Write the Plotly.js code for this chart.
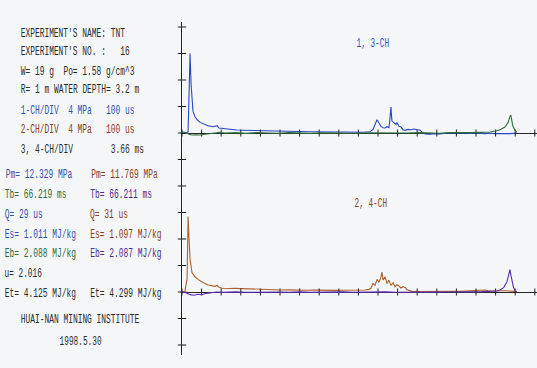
<!DOCTYPE html>
<html>
<head>
<meta charset="utf-8">
<script src="https://cdn.plot.ly/plotly-3.0.1.min.js"></script>
<style>
html,body{margin:0;padding:0;background:#f4f6f7;}
#chart{width:537px;height:368px;}
</style>
</head>
<body>
<div id="chart"></div>
<script>
// ---- data ----
// channel 1 (blue, top) : time in us, pressure in MPa
const ch1T = [0,10,20,31,36,41,46,51,56,66,77,92,112,133,158,179,189,219,255,280,306,330,347,370,388,410,429,450,474,500,526,550,577,600,628,655,679,705,730,755,781,805,832,858,883,908,934,959,974,985,995,1005,1015,1026,1036,1046,1056,1061,1066,1071,1082,1092,1097,1107,1117,1128,1138,1153,1168,1184,1199,1214,1225,1240,1265,1291,1316,1342,1367,1393,1418,1444,1469,1495,1520,1546,1571,1597,1622,1648,1673,1699];
const ch1P = [0.05,0.15,-0.05,0.2,6.0,12.0,7.5,4.6,3.3,2.5,2.0,1.6,1.3,1.1,0.95,1.1,0.75,0.62,0.5,0.45,0.42,0.4,0.36,0.38,0.33,0.3,0.32,0.27,0.28,0.24,0.26,0.22,0.24,0.2,0.22,0.18,0.2,0.17,0.19,0.15,0.17,0.14,0.16,0.12,0.15,0.12,0.14,0.2,0.5,1.3,2.0,1.5,1.0,0.8,0.75,0.95,0.8,2.2,3.9,1.8,1.6,1.3,1.6,1.0,0.9,0.5,0.4,0.55,0.5,0.6,0.5,0.45,0.1,-0.15,-0.18,-0.1,-0.14,0.0,0.05,-0.02,0.06,0.0,-0.06,0.02,-0.06,-0.1,-0.04,-0.12,-0.08,-0.13,-0.1,-0.05];
// channel 3 (green, top) : time in ms
const ch3T = [0,0.75,1.3,1.9,2.6,3.4,4.3,5.2,6.2,7.1,8,10,12,14,16,18,20,22,24,26,28,30,32,34,36,38,40,42,44,46,48,50,52,54,56,57.5,58.5,59.4,60.3,60.9,61.25,61.4,61.6,61.8,62.2,62.55];
const ch3P = [0.1,0.05,-0.2,-0.3,-0.28,-0.3,-0.2,-0.1,0.05,0.1,0.0,0.05,-0.05,0.06,0.0,-0.04,0.05,0.0,-0.05,0.04,0.0,0.05,-0.04,0.02,0.0,-0.05,0.04,0.0,0.06,0.02,-0.04,0.05,0.0,0.06,0.1,0.15,0.3,0.5,0.9,1.6,2.5,2.7,1.8,1.0,0.4,0.1];
// channel 2 (brown, bottom) : time in us
const ch2T = [0,15,26,31,36,41,51,66,82,102,133,153,168,179,189,204,225,245,270,306,340,372,410,440,474,510,540,570,602,640,680,720,755,790,825,857,895,934,954,964,974,985,995,1005,1015,1020,1026,1036,1046,1056,1066,1077,1087,1097,1107,1117,1128,1138,1148,1163,1173,1214,1250,1290,1316,1350,1390,1418,1460,1495,1520,1546,1571,1597,1622,1648,1673,1704];
const ch2P = [0.05,0.12,2.0,11.4,8.0,5.0,2.9,2.3,1.9,1.5,1.05,0.95,0.85,0.98,0.7,0.56,0.5,0.52,0.55,0.5,0.45,0.44,0.38,0.35,0.32,0.3,0.32,0.28,0.3,0.26,0.28,0.24,0.26,0.24,0.27,0.25,0.27,0.3,0.4,0.55,1.3,1.0,1.9,1.5,2.2,3.0,1.8,2.3,1.3,1.8,1.0,1.4,0.8,1.1,0.9,0.6,0.8,0.7,0.35,0.25,0.1,0.05,0.08,0.05,0.1,0.08,0.12,0.1,0.14,0.15,0.2,0.3,0.15,0.22,0.2,0.18,0.15,0.1];
// channel 4 (purple, bottom) : time in ms
const ch4T = [0,0.75,1.5,2.24,3.0,3.7,4.5,5.2,6.5,8,10,12,14,16,18,20,22,24,26,28,30,32,34,36,38,40,42,44,46,48,50,52,54,56,58,58.8,59.4,60.1,60.7,61.1,61.25,61.4,61.6,61.9,62.2,62.55];
const ch4P = [0.0,-0.1,-0.4,-0.5,-0.35,-0.42,-0.2,-0.1,0.0,-0.05,0.02,-0.04,0.0,-0.06,0.0,-0.04,0.02,-0.05,0.0,-0.04,0.02,-0.03,0.0,-0.05,0.02,-0.03,0.0,-0.04,0.02,-0.02,0.0,-0.03,0.02,0.05,0.1,0.15,0.3,0.7,1.6,2.8,3.4,2.6,1.6,0.7,0.2,0.0];

// division marks
const timeDivs = [0,100,200,300,400,500,600,700,800,900,1000,1100,1200,1300,1400,1500,1600,1700,1800];
const pressDivs = [16,12,8,4,0,-4,-8,-12,-16,-20,-24,-28,-32];

// text block: each line is a list of [text, colour key] pieces
const infoLines = [
  [["EXPERIMENT'S NAME: TNT", "k"]],
  [["EXPERIMENT'S NO. :   16", "k"]],
  [["W= 19 g  Po= 1.58 g/cm^3", "k"]],
  [["R= 1 m WATER DEPTH= 3.2 m", "k"]],
  [["1-CH/DIV  4 MPa   100 us", "b"]],
  [["2-CH/DIV  4 MPa   100 us", "r"]],
  [["3, 4-CH/DIV        3.66 ms", "k"]],
  [["Pm= 12.329 MPa    ", "b"], ["Pm= 11.769 MPa", "r"]],
  [["Tb= 66.219 ms     ", "g"], ["Tb= 66.211 ms", "p"]],
  [["Q= 29 us          ", "b"], ["Q= 31 us", "r"]],
  [["Es= 1.011 MJ/kg   ", "b"], ["Es= 1.097 MJ/kg", "r"]],
  [["Eb= 2.088 MJ/kg   ", "g"], ["Eb= 2.087 MJ/kg", "p"]],
  [["u= 2.016", "k"]],
  [["Et= 4.125 MJ/kg   ", "k"], ["Et= 4.299 MJ/kg", "k"]],
  [["HUAI-NAN MINING INSTITUTE", "k"]],
  [["1998.5.30", "k"]]
];
// where each text line starts (left px, middle px)
const lineLeft = [21,21,21,21,21,21,21,6,5,5,5,5,5,5,21,59];
const lineMid  = [33,52,71,90,110,129,149,174,195,215,234,253,273,293,319,341];
// channel labels: [text, colour key, centre px, middle px]
const chLabels = [["1, 3-CH", "b", 373, 43], ["2, 4-CH", "r", 371, 203]];

// ---- styling ----
const textCol = {k:"#2b2b2b", b:"#3050b4", r:"#8e3c20", g:"#2d6a3c", p:"#4a2c8e"};
const FONT = "'Liberation Mono', 'DejaVu Sans Mono', monospace";
const FSIZE = 8;       // gives the ~4.8 px pitch of the plotter lettering
const STRETCH = 1.5;   // plotter letters are tall and narrow
const PITCH = 4.78;
const L = 182, T = 22, W = 355, H = 333;
const px2x = px => (px - L) / W;
const py2y = py => (T + H - py) / H;
const nb = s => s.replace(/ /g, "\u00A0");

const items = infoLines.map((pieces, i) => {
  const n = pieces.reduce((a, p) => a + p[0].length, 0);
  const w = n * PITCH - 1;
  return {
    html: pieces.map(p => '<span style="color:' + textCol[p[1]] + '">' + nb(p[0]) + '</span>').join(""),
    col: textCol[pieces[0][1]], cx: lineLeft[i] + w / 2, cy: lineMid[i], w: w
  };
}).concat(chLabels.map(d => ({
  html: nb(d[0]), col: textCol[d[1]], cx: d[2], cy: d[3], w: d[0].length * PITCH - 1
})));
const widths = items.map(it => it.w);

const annotations = items.map(it => ({
  text: it.html, xref: "paper", yref: "paper",
  x: px2x(it.cx), y: py2y(it.cy),
  xanchor: "center", yanchor: "middle",
  showarrow: false, font: {family: FONT, size: FSIZE, color: it.col}
}));

const lw = 1.1;
const tickMarker = (sym, sz) => ({symbol: sym, size: sz, line: {color: "#1e1e1e", width: 1}});
const traces = [
  {x: ch3T, y: ch3P, xaxis: "x2", yaxis: "y", mode: "lines", line: {color: "#2f7040", width: lw}},
  {x: ch1T, y: ch1P, xaxis: "x", yaxis: "y", mode: "lines", line: {color: "#2a48c4", width: lw}},
  {x: ch2T, y: ch2P, xaxis: "x", yaxis: "y2", mode: "lines", line: {color: "#b0602c", width: lw}},
  {x: ch4T, y: ch4P, xaxis: "x2", yaxis: "y2", mode: "lines", line: {color: "#5a2cb2", width: lw}},
  {x: timeDivs, y: timeDivs.map(() => 0), xaxis: "x", yaxis: "y", mode: "markers", cliponaxis: false, marker: tickMarker("line-ns", 5)},
  {x: timeDivs, y: timeDivs.map(() => 0), xaxis: "x", yaxis: "y2", mode: "markers", cliponaxis: false, marker: tickMarker("line-ns", 5)},
  {x: pressDivs.map(() => 0), y: pressDivs, xaxis: "x", yaxis: "y", mode: "markers", cliponaxis: false, marker: tickMarker("line-ew", 6)}
];

const usPerPx = 100 / 19.6, msPerPx = 3.66 / 19.6, mpaPerPx = 4 / 26.5;
const hidden = {showgrid: false, showticklabels: false, ticks: "", zeroline: false, fixedrange: true};
const layout = {
  width: 537, height: 368,
  margin: {l: L, r: 537 - L - W, t: T, b: 368 - T - H},
  paper_bgcolor: "#f4f6f7", plot_bgcolor: "#f4f6f7",
  showlegend: false,
  xaxis: Object.assign({}, hidden, {range: [0, W * usPerPx]}),
  xaxis2: Object.assign({}, hidden, {range: [0, W * msPerPx], overlaying: "x", visible: false}),
  yaxis: Object.assign({}, hidden, {range: [-(T + H - 133) * mpaPerPx, (133 - T) * mpaPerPx],
    zeroline: true, zerolinecolor: "#262626", zerolinewidth: 1,
    showline: true, linecolor: "#262626", linewidth: 1}),
  yaxis2: Object.assign({}, hidden, {range: [-(T + H - 292) * mpaPerPx, (292 - T) * mpaPerPx],
    overlaying: "y", zeroline: true, zerolinecolor: "#262626", zerolinewidth: 1}),
  annotations: annotations
};

// fit each line to the plotter pitch and stretch the letters vertically
function styleText() {
  document.querySelectorAll("#chart .annotation").forEach(g => {
    const i = +g.getAttribute("data-index");
    const t = g.querySelector("text.annotation-text");
    if (!t || !widths[i]) return;
    t.setAttribute("textLength", widths[i]);
    t.setAttribute("lengthAdjust", "spacingAndGlyphs");
    if (!t.dataset.stretched) {
      const b = t.getBBox();
      const cy = b.y + b.height / 2;
      t.setAttribute("transform", "matrix(1,0,0," + STRETCH + ",0," + (cy * (1 - STRETCH)) + ")");
      t.dataset.stretched = "1";
    }
  });
}
Plotly.newPlot("chart", traces, layout, {staticPlot: true}).then(() => {
  styleText();
  setTimeout(styleText, 200);
});
</script>
</body>
</html>
